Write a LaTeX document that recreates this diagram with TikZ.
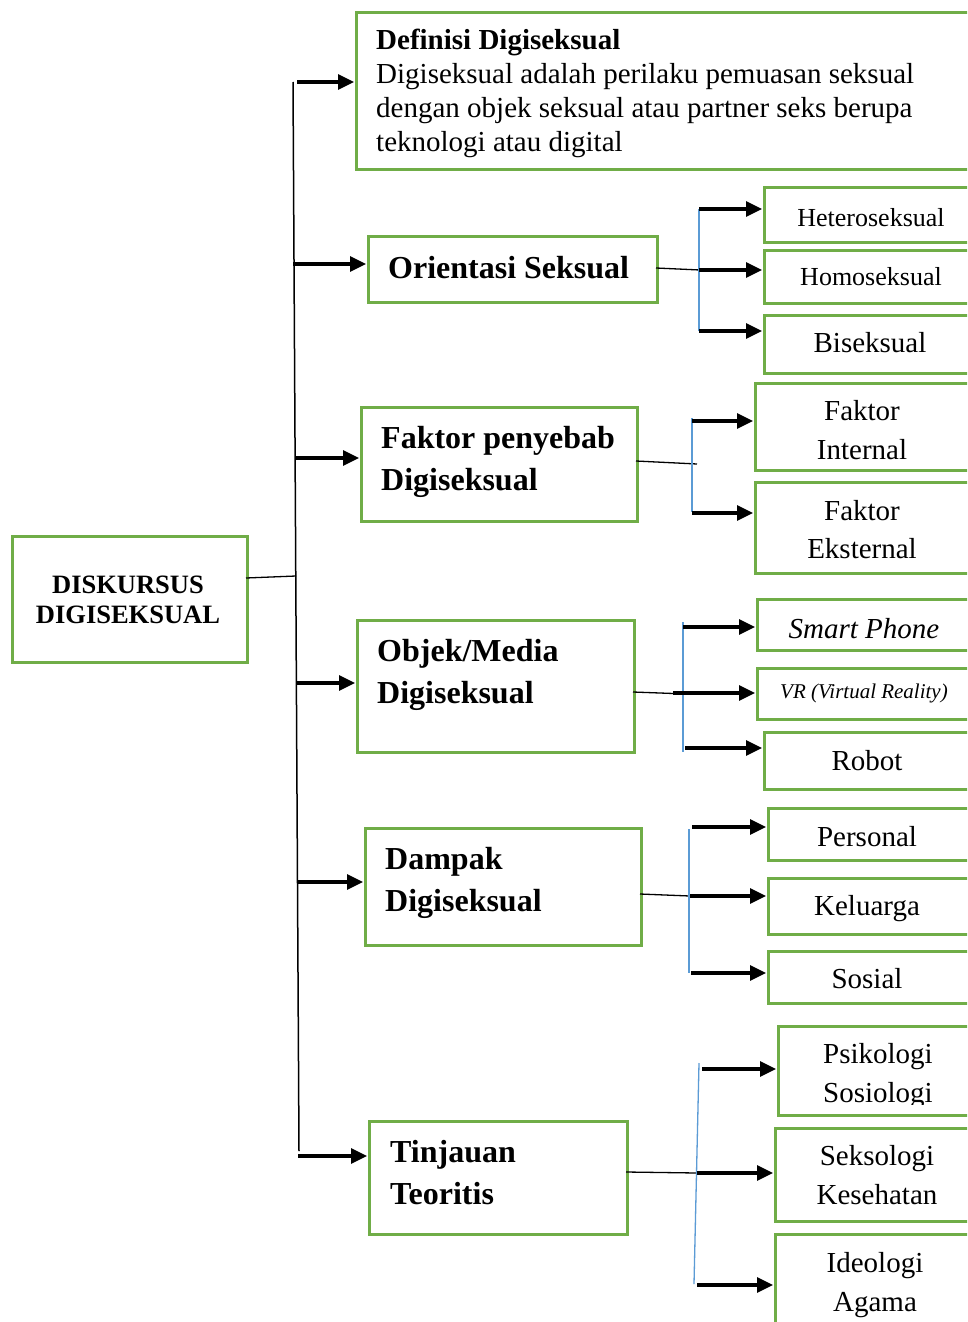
\documentclass[tikz,border=0pt]{standalone}
\usepackage{fontspec}
\setmainfont{Liberation Serif}
\usetikzlibrary{arrows.meta}
\definecolor{boxgreen}{HTML}{70AD47}
\definecolor{linkblue}{HTML}{5B9BD5}

\begin{document}
\begin{tikzpicture}[x=1pt,y=-1pt,
  box/.style={draw=boxgreen,line width=3pt,inner sep=0pt,anchor=north west},
  hd/.style={font=\fontsize{32}{36}\selectfont\bfseries,inner sep=0pt,anchor=base west},
  body/.style={font=\fontsize{29}{34}\selectfont,inner sep=0pt,anchor=base west},
  txt/.style={font=\fontsize{29}{34}\selectfont,inner sep=0pt,anchor=base},
  arr/.style={line width=3.2pt,-{Triangle[length=16pt,width=15pt]},shorten >=1pt},
  trunk/.style={line width=1.5pt},
  feed/.style={line width=1.3pt},
  fork/.style={draw=linkblue,line width=1.3pt}]

\useasboundingbox (0,0) rectangle (967,1322);
\clip (0,0) rectangle (967,1322);
\fill[white] (0,0) rectangle (967,1322);

% root box
\node[box,minimum width=235pt,minimum height=126pt] (main) at (11,535) {};
\node[txt,font=\fontsize{26.5}{30}\selectfont\bfseries] (mainA) at (128,593) {DISKURSUS};
\node[txt,font=\fontsize{26.5}{30}\selectfont\bfseries] (mainB) at (128,623) {DIGISEKSUAL};

% second-level boxes
\node[box,minimum width=620pt,minimum height=157pt] (def) at (355,11) {};
\node[body,font=\fontsize{29}{34}\selectfont\bfseries] (defT) at (376,49) {Definisi Digiseksual};
\node[body] (defL1) at (376,83) {Digiseksual adalah perilaku pemuasan seksual};
\node[body] (defL2) at (376,117) {dengan objek seksual atau partner seks berupa};
\node[body] (defL3) at (376,151) {teknologi atau digital};

\node[box,minimum width=289pt,minimum height=66pt] (ori) at (367,235) {};
\node[hd] (oriT) at (388,278) {Orientasi Seksual};

\node[box,minimum width=276pt,minimum height=114pt] (fak) at (360,406) {};
\node[hd] (fakA) at (381,448) {Faktor penyebab};
\node[hd] (fakB) at (381,490) {Digiseksual};

\node[box,minimum width=277pt,minimum height=132pt] (obj) at (356,619) {};
\node[hd] (objA) at (377,661) {Objek/Media};
\node[hd] (objB) at (377,703) {Digiseksual};

\node[box,minimum width=276pt,minimum height=117pt] (dam) at (364,827) {};
\node[hd] (damA) at (385,869) {Dampak};
\node[hd] (damB) at (385,911) {Digiseksual};

\node[box,minimum width=258pt,minimum height=113pt] (tin) at (368,1120) {};
\node[hd] (tinA) at (390,1162) {Tinjauan};
\node[hd] (tinB) at (390,1204) {Teoritis};

% trunk and branches
\coordinate (tTop) at (293,82);
\coordinate (tBot) at (299,1151);
\draw[trunk] (tTop) -- (tBot);
\coordinate (mOut) at (246,578);
\coordinate (tJoin) at (296,576);
\draw[feed] (mOut) -- (tJoin);

\coordinate (b1) at (297,82);
\coordinate (b2) at (293,264);
\coordinate (b3) at (296,458);
\coordinate (b4) at (297,683);
\coordinate (b5) at (298,882);
\coordinate (b6) at (298,1156);
\draw[arr] (b1) -- (b1 -| def.west);
\draw[arr] (b2) -- (b2 -| ori.west);
\draw[arr] (b3) -- (b3 -| fak.west);
\draw[arr] (b4) -- (b4 -| obj.west);
\draw[arr] (b5) -- (b5 -| dam.west);
\draw[arr] (b6) -- (b6 -| tin.west);

% orientation leaves
\node[box,minimum width=212pt,minimum height=55pt] (het) at (763,186) {};
\node[box,minimum width=212pt,minimum height=53pt] (hom) at (763,249) {};
\node[box,minimum width=212pt,minimum height=58pt] (bis) at (763,314) {};
\node[txt,font=\fontsize{26}{30}\selectfont] (hetT) at (871,226) {Heteroseksual};
\node[txt,font=\fontsize{26}{30}\selectfont] (homT) at (871,285) {Homoseksual};
\node[txt] (bisT) at (870,352) {Biseksual};
\coordinate (oOut) at (656,268);
\coordinate (oJoin) at (700,270);
\draw[feed] (oOut) -- (oJoin);
\coordinate (o1) at (699,209);
\coordinate (o2) at (699,270);
\coordinate (o3) at (699,331);
\draw[fork] (o1) -- (o3);
\draw[arr] (o1) -- (o1 -| het.west);
\draw[arr] (o2) -- (o2 -| hom.west);
\draw[arr] (o3) -- (o3 -| bis.west);

% cause leaves
\node[box,minimum width=221pt,minimum height=87pt] (int) at (754,382) {};
\node[box,minimum width=221pt,minimum height=91pt] (eks) at (754,481) {};
\node[txt] (intA) at (862,420) {Faktor};
\node[txt] (intB) at (862,459) {Internal};
\node[txt] (eksA) at (862,520) {Faktor};
\node[txt] (eksB) at (862,558) {Eksternal};
\coordinate (fOut) at (636,461);
\coordinate (fJoin) at (697,464);
\draw[feed] (fOut) -- (fJoin);
\coordinate (f1) at (692,418);
\coordinate (f2) at (692,512);
\draw[fork] (f1) -- (f2);
\coordinate (fa1) at (692,421);
\coordinate (fa2) at (692,513);
\draw[arr] (fa1) -- (fa1 -| int.west);
\draw[arr] (fa2) -- (fa2 -| eks.west);

% media leaves
\node[box,minimum width=219pt,minimum height=51pt] (sp) at (756,598) {};
\node[box,minimum width=219pt,minimum height=51pt] (vr) at (756,667) {};
\node[box,minimum width=212pt,minimum height=57pt] (rob) at (763,731) {};
\node[txt,font=\fontsize{29}{34}\selectfont\itshape] (spT) at (864,638) {Smart Phone};
\node[txt,font=\fontsize{21}{25}\selectfont\itshape] (vrT) at (864,698) {VR (Virtual Reality)};
\node[txt] (robT) at (867,770) {Robot};
\coordinate (mdOut) at (633,692);
\coordinate (mdJoin) at (687,694);
\draw[feed] (mdOut) -- (mdJoin);
\coordinate (m1) at (683,622);
\coordinate (m2) at (683,752);
\draw[fork] (m1) -- (m2);
\coordinate (ma1) at (683,627);
\coordinate (ma2) at (673,693);
\coordinate (ma3) at (685,748);
\draw[arr] (ma1) -- (ma1 -| sp.west);
\draw[arr] (ma2) -- (ma2 -| vr.west);
\draw[arr] (ma3) -- (ma3 -| rob.west);

% impact leaves
\node[box,minimum width=208pt,minimum height=52pt] (per) at (767,807) {};
\node[box,minimum width=208pt,minimum height=56pt] (kel) at (767,877) {};
\node[box,minimum width=208pt,minimum height=52pt] (sos) at (767,950) {};
\node[txt] (perT) at (867,846) {Personal};
\node[txt] (kelT) at (867,915) {Keluarga};
\node[txt] (sosT) at (867,988) {Sosial};
\coordinate (dOut) at (640,894);
\coordinate (dJoin) at (690,896);
\draw[feed] (dOut) -- (dJoin);
\coordinate (d1) at (689,829);
\coordinate (d2) at (689,973);
\draw[fork] (d1) -- (d2);
\coordinate (da1) at (692,827);
\coordinate (da2) at (690,896);
\coordinate (da3) at (691,973);
\draw[arr] (da1) -- (da1 -| per.west);
\draw[arr] (da2) -- (da2 -| kel.west);
\draw[arr] (da3) -- (da3 -| sos.west);

% theory leaves
\node[box,minimum width=198pt,minimum height=89pt] (psi) at (777,1025) {};
\node[box,minimum width=201pt,minimum height=93pt] (sek) at (774,1127) {};
\node[box,minimum width=201pt,minimum height=110pt] (ide) at (774,1233) {};
\begin{scope}
  \clip (777,1025) rectangle (975,1104);
  \node[txt] (psiA) at (878,1063) {Psikologi};
  \node[txt] (psiB) at (878,1102) {Sosiologi};
\end{scope}
\node[txt] (sekA) at (877,1165) {Seksologi};
\node[txt] (sekB) at (877,1204) {Kesehatan};
\node[txt] (ideA) at (875,1272) {Ideologi};
\node[txt] (ideB) at (875,1311) {Agama};
\coordinate (tOut) at (626,1172);
\coordinate (tJoin2) at (697,1173);
\draw[feed] (tOut) -- (tJoin2);
\coordinate (t1) at (699,1063);
\coordinate (t2) at (694,1284);
\draw[fork] (t1) -- (t2);
\coordinate (ta1) at (702,1069);
\coordinate (ta2) at (697,1173);
\coordinate (ta3) at (697,1285);
\draw[arr] (ta1) -- (ta1 -| psi.west);
\draw[arr] (ta2) -- (ta2 -| sek.west);
\draw[arr] (ta3) -- (ta3 -| ide.west);
\end{tikzpicture}
\end{document}
